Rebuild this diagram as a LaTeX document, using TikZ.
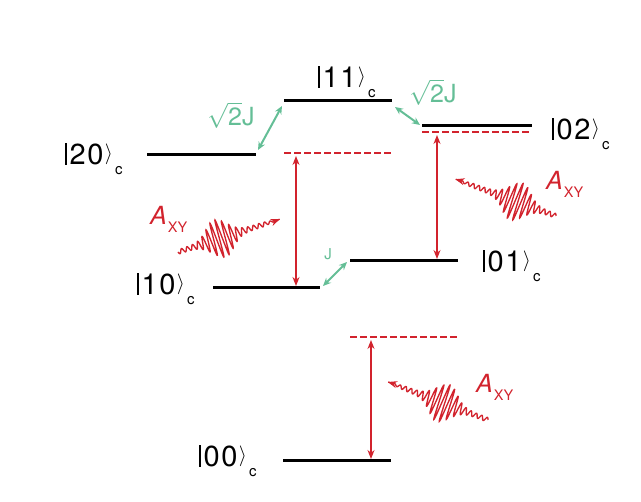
\documentclass[tikz,border=0pt]{standalone}
\usepackage{fontspec}
\setmainfont{TeX Gyre Heros}
\usetikzlibrary{arrows.meta}
\definecolor{myred}{RGB}{210,35,45}
\definecolor{mygreen}{RGB}{100,190,150}
\newcommand\ketc[1]{\rule{1.3pt}{21.5pt}\kern3pt\addfontfeatures{LetterSpace=6}#1\kern1.5pt\raisebox{5.4pt}{\fontsize{21.5}{21.5}\selectfont$\rangle$}\kern2pt\raisebox{-10pt}{\fontsize{15}{15}\selectfont c}}
\newcommand\axy{\textit{A}\kern1pt\raisebox{-8pt}{\fontsize{14.5}{15}\selectfont XY}}
% #1 tail x, #2 tail y, #3 angle, #4 length, #5 peak distance, #6 amplitude
\newcommand\wavepkt[6]{%
  \begin{scope}[shift={(#1,#2)},rotate=#3]
    \draw[myred,line width=1.35pt,-{Stealth[length=9pt,width=7pt]}]
      plot[domain=0:#4,samples=500,smooth]
      (\x,{(2.2+#6*exp(-((\x-#5)/15)^2))*min(1,(#4-\x)/18)*sin(\x*62)});
  \end{scope}}
\begin{document}
\begin{tikzpicture}[x=1pt,y=-1pt,
  level/.style={line width=3pt,black},
  virt/.style={myred,line width=2pt,dash pattern=on 6.5pt off 3.5pt},
  trans/.style={myred,line width=1.4pt,{Stealth[length=9pt,width=7pt]}-{Stealth[length=9pt,width=7pt]}},
  coup/.style={mygreen,line width=2pt,{Stealth[length=8pt,width=7pt]}-{Stealth[length=8pt,width=7pt]}},
  ket/.style={anchor=base west,inner sep=0pt,font=\fontsize{29}{32}\selectfont},
  glab/.style={mygreen,inner sep=0pt,font=\fontsize{25}{28}\selectfont},
  rlab/.style={myred,anchor=base west,inner sep=0pt,font=\fontsize{25}{28}\selectfont}]
\useasboundingbox (0,0) rectangle (641,502);
% levels
\coordinate (a00) at (283,461); \coordinate (b00) at (391,461);
\coordinate (a10) at (213,288); \coordinate (b10) at (320,288);
\coordinate (a01) at (350,261); \coordinate (b01) at (458,261);
\coordinate (a20) at (147,155); \coordinate (b20) at (256,155);
\coordinate (a11) at (284,101); \coordinate (b11) at (392,101);
\coordinate (a02) at (422,126); \coordinate (b02) at (532,126);
\foreach \n in {00,10,01,20,11,02} \draw[level] (a\n) -- (b\n);
% virtual levels
\coordinate (va1) at (284,153); \coordinate (vb1) at (392,153);
\coordinate (va2) at (422,132); \coordinate (vb2) at (532,132);
\coordinate (va3) at (350,337); \coordinate (vb3) at (458,337);
\foreach \n in {1,2,3} \draw[virt] (va\n) -- (vb\n);
% transitions
\coordinate (t1a) at (296,156); \coordinate (t1b) at (296,286);
\coordinate (t2a) at (437,135); \coordinate (t2b) at (437,259);
\coordinate (t3a) at (371,340); \coordinate (t3b) at (371,459);
\draw[trans] (t1a) -- (t1b);
\draw[trans] (t2a) -- (t2b);
\draw[trans] (t3a) -- (t3b);
% couplings
\coordinate (c1a) at (258,150); \coordinate (c1b) at (282,106);
\coordinate (c2a) at (395,107); \coordinate (c2b) at (420,125);
\coordinate (c3a) at (323,286); \coordinate (c3b) at (347,262);
\draw[coup] (c1a) -- (c1b);
\draw[coup] (c2a) -- (c2b);
\draw[coup] (c3a) -- (c3b);
\node[glab] (g1) at (231,115) {$\sqrt{\mbox{2}}$J};
\node[glab] (g2) at (433,92) {$\sqrt{\mbox{2}}$J};
\node[mygreen,inner sep=0pt,font=\fontsize{15}{17}\selectfont] (g3) at (328,254) {J};
% kets
\node[ket] (k11) at (318,88) {\ketc{11}};
\node[ket] (k02) at (552,140) {\ketc{02}};
\node[ket] (k20) at (65,165) {\ketc{20}};
\node[ket] (k10) at (137,295) {\ketc{10}};
\node[ket] (k01) at (483,272) {\ketc{01}};
\node[ket] (k00) at (199,467) {\ketc{00}};
% drive labels
\node[rlab] (x1) at (150,225) {\axy};
\node[rlab] (x2) at (546,190) {\axy};
\node[rlab] (x3) at (476,393) {\axy};
% wave packets
\wavepkt{178}{252}{17.9}{107}{44}{17}
\wavepkt{556}{216}{159.9}{107}{42}{17}
\wavepkt{488}{420}{159.2}{107}{48}{17}
\end{tikzpicture}
\end{document}
